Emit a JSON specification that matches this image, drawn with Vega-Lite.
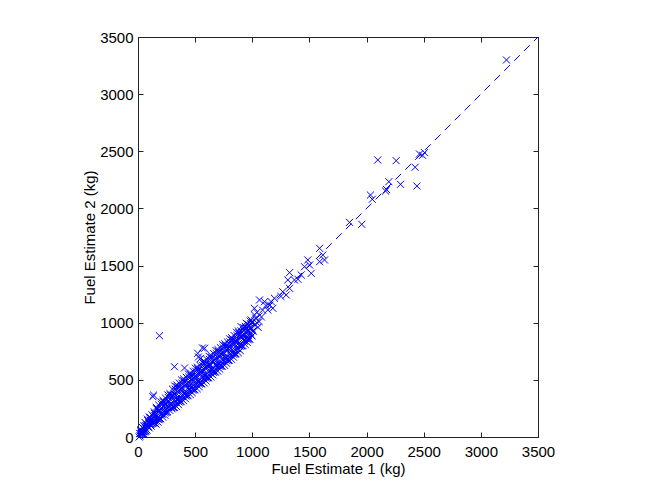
{
  "$schema": "https://vega.github.io/schema/vega-lite/v6.json",
  "width": 400,
  "height": 400,
  "autosize": "none",
  "padding": {"left": 138, "top": 37, "right": 116, "bottom": 55},
  "background": "white",
  "config": {
    "view": {"stroke": "#222222", "strokeWidth": 1},
    "axis": {
      "grid": false,
      "domainColor": "#222222",
      "tickColor": "#222222",
      "labelFont": "Liberation Sans",
      "titleFont": "Liberation Sans",
      "labelFontSize": 15,
      "titleFontSize": 15,
      "labelColor": "#000000",
      "titleColor": "#000000",
      "titleFontWeight": "normal",
      "tickSize": -5,
      "format": "d"
    }
  },
  "datasets": {
    "pts": [
      {"f1":10,"f2":0},{"f1":15,"f2":32},{"f1":20,"f2":29},{"f1":25,"f2":54},{"f1":30,"f2":31},{"f1":35,"f2":48},{"f1":40,"f2":83},{"f1":45,"f2":48},{"f1":50,"f2":97},{"f1":55,"f2":25},
      {"f1":60,"f2":91},{"f1":65,"f2":51},{"f1":70,"f2":54},{"f1":75,"f2":112},{"f1":80,"f2":97},{"f1":85,"f2":142},{"f1":90,"f2":91},{"f1":95,"f2":123},{"f1":100,"f2":175},{"f1":105,"f2":112},
      {"f1":110,"f2":167},{"f1":115,"f2":95},{"f1":120,"f2":159},{"f1":125,"f2":119},{"f1":130,"f2":120},{"f1":135,"f2":178},{"f1":140,"f2":161},{"f1":145,"f2":206},{"f1":150,"f2":138},{"f1":155,"f2":187},
      {"f1":160,"f2":260},{"f1":165,"f2":162},{"f1":170,"f2":242},{"f1":175,"f2":130},{"f1":180,"f2":224},{"f1":185,"f2":161},{"f1":190,"f2":157},{"f1":195,"f2":248},{"f1":200,"f2":216},{"f1":205,"f2":286},
      {"f1":210,"f2":198},{"f1":215,"f2":247},{"f1":220,"f2":320},{"f1":225,"f2":222},{"f1":230,"f2":302},{"f1":235,"f2":190},{"f1":240,"f2":284},{"f1":245,"f2":221},{"f1":250,"f2":217},{"f1":255,"f2":308},
      {"f1":260,"f2":276},{"f1":265,"f2":346},{"f1":270,"f2":258},{"f1":275,"f2":307},{"f1":280,"f2":380},{"f1":285,"f2":282},{"f1":290,"f2":362},{"f1":295,"f2":250},{"f1":300,"f2":348},{"f1":305,"f2":267},
      {"f1":310,"f2":258},{"f1":315,"f2":375},{"f1":320,"f2":329},{"f1":325,"f2":419},{"f1":330,"f2":302},{"f1":335,"f2":365},{"f1":340,"f2":455},{"f1":345,"f2":329},{"f1":350,"f2":427},{"f1":355,"f2":283},
      {"f1":360,"f2":400},{"f1":365,"f2":319},{"f1":370,"f2":310},{"f1":375,"f2":427},{"f1":380,"f2":381},{"f1":385,"f2":471},{"f1":390,"f2":354},{"f1":395,"f2":417},{"f1":400,"f2":507},{"f1":405,"f2":381},
      {"f1":410,"f2":479},{"f1":415,"f2":335},{"f1":420,"f2":452},{"f1":425,"f2":371},{"f1":430,"f2":362},{"f1":435,"f2":479},{"f1":440,"f2":433},{"f1":445,"f2":523},{"f1":450,"f2":406},{"f1":455,"f2":469},
      {"f1":460,"f2":559},{"f1":465,"f2":433},{"f1":470,"f2":531},{"f1":475,"f2":387},{"f1":480,"f2":504},{"f1":485,"f2":423},{"f1":490,"f2":414},{"f1":495,"f2":531},{"f1":500,"f2":485},{"f1":505,"f2":575},
      {"f1":510,"f2":458},{"f1":515,"f2":521},{"f1":520,"f2":611},{"f1":525,"f2":485},{"f1":530,"f2":583},{"f1":535,"f2":439},{"f1":540,"f2":556},{"f1":545,"f2":475},{"f1":550,"f2":466},{"f1":555,"f2":583},
      {"f1":560,"f2":537},{"f1":565,"f2":627},{"f1":570,"f2":510},{"f1":575,"f2":573},{"f1":580,"f2":663},{"f1":585,"f2":537},{"f1":590,"f2":635},{"f1":595,"f2":491},{"f1":600,"f2":608},{"f1":605,"f2":527},
      {"f1":610,"f2":518},{"f1":615,"f2":635},{"f1":620,"f2":589},{"f1":625,"f2":679},{"f1":630,"f2":562},{"f1":635,"f2":625},{"f1":640,"f2":714},{"f1":645,"f2":588},{"f1":650,"f2":687},{"f1":655,"f2":543},
      {"f1":660,"f2":659},{"f1":665,"f2":578},{"f1":670,"f2":569},{"f1":675,"f2":686},{"f1":680,"f2":640},{"f1":685,"f2":730},{"f1":690,"f2":613},{"f1":695,"f2":676},{"f1":700,"f2":765},{"f1":705,"f2":639},
      {"f1":710,"f2":738},{"f1":715,"f2":594},{"f1":720,"f2":710},{"f1":725,"f2":629},{"f1":730,"f2":620},{"f1":735,"f2":737},{"f1":740,"f2":691},{"f1":745,"f2":781},{"f1":750,"f2":664},{"f1":755,"f2":727},
      {"f1":760,"f2":816},{"f1":765,"f2":690},{"f1":770,"f2":789},{"f1":775,"f2":645},{"f1":780,"f2":761},{"f1":785,"f2":680},{"f1":790,"f2":671},{"f1":795,"f2":788},{"f1":800,"f2":742},{"f1":805,"f2":832},
      {"f1":810,"f2":716},{"f1":815,"f2":779},{"f1":820,"f2":869},{"f1":825,"f2":743},{"f1":830,"f2":843},{"f1":835,"f2":699},{"f1":840,"f2":816},{"f1":845,"f2":735},{"f1":850,"f2":727},{"f1":855,"f2":844},
      {"f1":860,"f2":799},{"f1":865,"f2":889},{"f1":870,"f2":773},{"f1":875,"f2":836},{"f1":880,"f2":926},{"f1":885,"f2":800},{"f1":890,"f2":900},{"f1":895,"f2":756},{"f1":900,"f2":870},{"f1":905,"f2":802},
      {"f1":910,"f2":798},{"f1":915,"f2":895},{"f1":920,"f2":859},{"f1":925,"f2":934},{"f1":930,"f2":839},{"f1":935,"f2":892},{"f1":940,"f2":968},{"f1":945,"f2":863},{"f1":950,"f2":948},{"f1":955,"f2":828},
      {"f1":960,"f2":927},{"f1":965,"f2":860},{"f1":970,"f2":855},{"f1":975,"f2":952},{"f1":980,"f2":916},{"f1":985,"f2":991},{"f1":990,"f2":896},{"f1":995,"f2":949},{"f1":1000,"f2":1010},{"f1":1005,"f2":926},
      {"f1":1020,"f2":980},{"f1":1040,"f2":1000},{"f1":1060,"f2":1010},{"f1":1080,"f2":1050},{"f1":1030,"f2":1040},{"f1":1050,"f2":960},
      {"f1":22,"f2":62},{"f1":18,"f2":9},{"f1":27,"f2":43},{"f1":42,"f2":79},{"f1":38,"f2":31},{"f1":47,"f2":49},{"f1":62,"f2":127},{"f1":58,"f2":45},{"f1":67,"f2":98},{"f1":82,"f2":156},
      {"f1":78,"f2":61},{"f1":87,"f2":90},{"f1":102,"f2":167},{"f1":98,"f2":80},{"f1":107,"f2":146},{"f1":122,"f2":195},{"f1":118,"f2":113},{"f1":127,"f2":134},{"f1":142,"f2":220},{"f1":138,"f2":125},
      {"f1":147,"f2":186},{"f1":162,"f2":248},{"f1":158,"f2":113},{"f1":167,"f2":165},{"f1":182,"f2":279},{"f1":178,"f2":152},{"f1":187,"f2":235},{"f1":202,"f2":307},{"f1":198,"f2":161},{"f1":207,"f2":205},
      {"f1":222,"f2":308},{"f1":218,"f2":173},{"f1":227,"f2":275},{"f1":242,"f2":339},{"f1":238,"f2":212},{"f1":247,"f2":245},{"f1":262,"f2":367},{"f1":258,"f2":221},{"f1":267,"f2":315},{"f1":282,"f2":368},
      {"f1":278,"f2":233},{"f1":287,"f2":285},{"f1":302,"f2":419},{"f1":298,"f2":255},{"f1":307,"f2":362},{"f1":322,"f2":446},{"f1":318,"f2":258},{"f1":327,"f2":315},{"f1":342,"f2":440},{"f1":338,"f2":266},
      {"f1":347,"f2":397},{"f1":362,"f2":471},{"f1":358,"f2":307},{"f1":367,"f2":350},{"f1":382,"f2":498},{"f1":378,"f2":310},{"f1":387,"f2":431},{"f1":402,"f2":492},{"f1":398,"f2":318},{"f1":407,"f2":385},
      {"f1":422,"f2":523},{"f1":418,"f2":359},{"f1":427,"f2":466},{"f1":442,"f2":550},{"f1":438,"f2":362},{"f1":447,"f2":419},{"f1":462,"f2":544},{"f1":458,"f2":370},{"f1":467,"f2":501},{"f1":482,"f2":575},
      {"f1":478,"f2":411},{"f1":487,"f2":454},{"f1":502,"f2":602},{"f1":498,"f2":414},{"f1":507,"f2":535},{"f1":522,"f2":596},{"f1":518,"f2":422},{"f1":527,"f2":489},{"f1":542,"f2":627},{"f1":538,"f2":463},
      {"f1":547,"f2":570},{"f1":562,"f2":654},{"f1":558,"f2":466},{"f1":567,"f2":523},{"f1":582,"f2":648},{"f1":578,"f2":474},{"f1":587,"f2":605},{"f1":602,"f2":679},{"f1":598,"f2":515},{"f1":607,"f2":558},
      {"f1":622,"f2":706},{"f1":618,"f2":518},{"f1":627,"f2":639},{"f1":642,"f2":699},{"f1":638,"f2":525},{"f1":647,"f2":592},{"f1":662,"f2":730},{"f1":658,"f2":566},{"f1":667,"f2":673},{"f1":682,"f2":757},
      {"f1":678,"f2":569},{"f1":687,"f2":626},{"f1":702,"f2":750},{"f1":698,"f2":576},{"f1":707,"f2":707},{"f1":722,"f2":781},{"f1":718,"f2":617},{"f1":727,"f2":660},{"f1":742,"f2":808},{"f1":738,"f2":620},
      {"f1":747,"f2":741},{"f1":762,"f2":801},{"f1":758,"f2":627},{"f1":767,"f2":694},{"f1":782,"f2":832},{"f1":778,"f2":668},{"f1":787,"f2":775},{"f1":802,"f2":859},{"f1":798,"f2":671},{"f1":807,"f2":728},
      {"f1":822,"f2":854},{"f1":818,"f2":680},{"f1":827,"f2":811},{"f1":842,"f2":887},{"f1":838,"f2":723},{"f1":847,"f2":766},{"f1":862,"f2":916},{"f1":858,"f2":728},{"f1":867,"f2":849},{"f1":882,"f2":911},
      {"f1":878,"f2":737},{"f1":887,"f2":804},{"f1":902,"f2":929},{"f1":898,"f2":793},{"f1":907,"f2":881},{"f1":922,"f2":957},{"f1":918,"f2":800},{"f1":927,"f2":848},{"f1":942,"f2":955},{"f1":938,"f2":810},
      {"f1":947,"f2":919},{"f1":962,"f2":986},{"f1":958,"f2":850},{"f1":967,"f2":886},{"f1":982,"f2":1014},{"f1":978,"f2":857},{"f1":987,"f2":957},{"f1":1002,"f2":1000},{"f1":998,"f2":884},{"f1":1007,"f2":929},
      {"f1":188,"f2":886},{"f1":319,"f2":615},{"f1":407,"f2":604},{"f1":529,"f2":700},{"f1":564,"f2":779},{"f1":136,"f2":367},{"f1":130,"f2":353},{"f1":582,"f2":776},{"f1":547,"f2":688},{"f1":523,"f2":732},
      {"f1":1589,"f2":1651},{"f1":1617,"f2":1592},{"f1":1632,"f2":1549},{"f1":1589,"f2":1534},{"f1":1486,"f2":1549},{"f1":1501,"f2":1505},{"f1":1457,"f2":1490},{"f1":1516,"f2":1432},{"f1":1428,"f2":1418},{"f1":1326,"f2":1438},
      {"f1":1311,"f2":1374},{"f1":1369,"f2":1374},{"f1":1267,"f2":1271},{"f1":1326,"f2":1301},{"f1":1297,"f2":1243},{"f1":1194,"f2":1214},{"f1":1166,"f2":1184},{"f1":1151,"f2":1155},{"f1":1063,"f2":1199},{"f1":1107,"f2":1184},
      {"f1":1180,"f2":1126},{"f1":1136,"f2":1111},{"f1":1019,"f2":1126},{"f1":1019,"f2":1068},{"f1":990,"f2":1024},{"f1":947,"f2":995},{"f1":903,"f2":965},{"f1":1040,"f2":1090},{"f1":1090,"f2":1110},{"f1":1120,"f2":1150},
      {"f1":1250,"f2":1230},{"f1":1400,"f2":1380},
      {"f1":2098,"f2":2424},{"f1":2259,"f2":2418},{"f1":2425,"f2":2360},{"f1":2463,"f2":2476},{"f1":2507,"f2":2488},{"f1":2490,"f2":2465},{"f1":2195,"f2":2234},{"f1":2297,"f2":2211},{"f1":2440,"f2":2196},{"f1":2166,"f2":2152},
      {"f1":2175,"f2":2165},{"f1":2034,"f2":2117},{"f1":2050,"f2":2080},{"f1":1851,"f2":1878},{"f1":1958,"f2":1861},{"f1":3224,"f2":3299}
    ],
    "diag": [{"f1":0,"f2":0},{"f1":3500,"f2":3500}]
  },
  "layer": [
    {
      "data": {"name": "pts"},
      "mark": {"type": "point", "shape": "M-1,-1L1,1M1,-1L-1,1", "filled": false, "stroke": "#0000ff", "strokeWidth": 1, "size": 50, "opacity": 1},
      "encoding": {
        "x": {"field": "f1", "type": "quantitative", "scale": {"domain": [0, 3500], "nice": false, "zero": false},
              "axis": {"title": "Fuel Estimate 1 (kg)", "values": [0,500,1000,1500,2000,2500,3000,3500], "labelPadding": 12, "labelFlush": false, "titleY": 36, "titleBaseline": "alphabetic"}},
        "y": {"field": "f2", "type": "quantitative", "scale": {"domain": [0, 3500], "nice": false, "zero": false},
              "axis": {"title": "Fuel Estimate 2 (kg)", "values": [0,500,1000,1500,2000,2500,3000,3500], "labelPadding": 10, "labelFlush": false, "titleX": -44, "titleBaseline": "alphabetic"}}
      }
    },
    {
      "data": {"name": "diag"},
      "mark": {"type": "line", "stroke": "#0000ff", "strokeWidth": 1, "strokeDash": [8, 6]},
      "encoding": {
        "x": {"field": "f1", "type": "quantitative", "axis": {"orient": "top", "labels": false, "title": null, "domain": false, "values": [0,500,1000,1500,2000,2500,3000,3500]}},
        "y": {"field": "f2", "type": "quantitative", "axis": {"orient": "right", "labels": false, "title": null, "domain": false, "values": [0,500,1000,1500,2000,2500,3000,3500]}}
      }
    }
  ],
  "resolve": {"axis": {"x": "independent", "y": "independent"}}
}
